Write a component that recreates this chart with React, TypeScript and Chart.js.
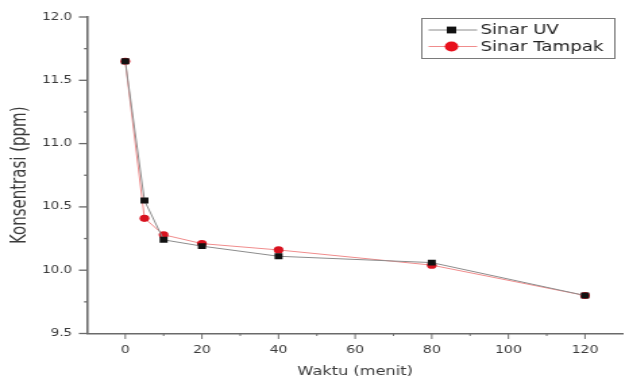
import React, { useEffect, useRef } from "react";
import { Chart, registerables } from "chart.js";

Chart.register(...registerables);

// ---- data ----
const waktu = [0, 5, 10, 20, 40, 80, 120];
const sinarUV = [11.65, 10.55, 10.24, 10.19, 10.11, 10.06, 9.8];
const sinarTampak = [11.65, 10.41, 10.28, 10.21, 10.16, 10.04, 9.8];
const xMajorTicks = [0, 20, 40, 60, 80, 100, 120];
const xMinorTicks = [10, 30, 50, 70, 90, 110];
const yMajorTicks = [9.5, 10.0, 10.5, 11.0, 11.5, 12.0];
const yMinorTicks = [9.75, 10.25, 10.75, 11.25, 11.75];
const seriesLabels = ["Sinar UV", "Sinar Tampak"];
const xTitle = "Waktu (menit)";
const yTitle = "Konsentrasi (ppm)";

// ---- styling ----
const STRETCH = 1.35; // reference picture is stretched horizontally
const CSS_W = 629;
const CSS_H = 378;
const INT_W = Math.round(CSS_W / STRETCH);
const FONT = "'DejaVu Sans', Arial, sans-serif";
const AXIS_COLOR = "#6a6a6a";
const TEXT_COLOR = "#3a3a3a";
const UV_LINE = "#8c8c8c";
const UV_POINT = "#111111";
const TAMPAK_LINE = "#f08c8c";
const TAMPAK_POINT = "#d8121f";

const tickMarks = {
  id: "tickMarks",
  afterDraw(chart: any) {
    const { ctx, chartArea } = chart;
    const xs = chart.scales.x;
    const ys = chart.scales.y;
    ctx.save();
    ctx.strokeStyle = AXIS_COLOR;
    ctx.lineWidth = 1 / STRETCH * 1.3;
    const drawX = (v: number, len: number) => {
      const px = xs.getPixelForValue(v);
      ctx.beginPath();
      ctx.moveTo(px, chartArea.bottom);
      ctx.lineTo(px, chartArea.bottom + len);
      ctx.stroke();
    };
    xMajorTicks.forEach((v) => drawX(v, 5.5));
    xMinorTicks.forEach((v) => drawX(v, 2.5));
    ctx.lineWidth = 1.3;
    const drawY = (v: number, len: number) => {
      const py = ys.getPixelForValue(v);
      ctx.beginPath();
      ctx.moveTo(chartArea.left, py);
      ctx.lineTo(chartArea.left - len, py);
      ctx.stroke();
    };
    yMajorTicks.forEach((v) => drawY(v, 6));
    yMinorTicks.forEach((v) => drawY(v, 2.2));
    ctx.restore();
  },
};

const boxLegend = {
  id: "boxLegend",
  afterDraw(chart: any) {
    const { ctx } = chart;
    const left = 312.5;
    const top = 18.5;
    const w = 143;
    const h = 40;
    ctx.save();
    ctx.fillStyle = "#ffffff";
    ctx.fillRect(left, top, w, h);
    ctx.strokeStyle = "#7a7a7a";
    ctx.lineWidth = 1;
    ctx.strokeRect(left, top, w, h);
    const rows = [30, 46.5];
    chart.data.datasets.forEach((ds: any, i: number) => {
      const y = rows[i];
      ctx.strokeStyle = ds.borderColor;
      ctx.lineWidth = 1;
      ctx.beginPath();
      ctx.moveTo(left + 5, y);
      ctx.lineTo(left + 41, y);
      ctx.stroke();
      ctx.fillStyle = i === 0 ? UV_POINT : "#e8101c";
      const cx = left + 22;
      if (ds.pointStyle === "rect") {
        ctx.fillRect(cx - 3.5, y - 3.4, 7, 6.8);
      } else {
        ctx.beginPath();
        ctx.arc(cx, y, 5, 0, Math.PI * 2);
        ctx.fill();
      }
      ctx.fillStyle = "#222222";
      ctx.font = `13.5px ${FONT}`;
      ctx.textBaseline = "middle";
      ctx.textAlign = "left";
      ctx.fillText(ds.label, left + 43.5, y + 0.5);
    });
    ctx.restore();
  },
};

export default function App() {
  const canvasRef = useRef<HTMLCanvasElement | null>(null);

  useEffect(() => {
    if (!canvasRef.current) return;
    const chart = new Chart(canvasRef.current, {
      type: "scatter",
      data: {
        datasets: [
          {
            label: seriesLabels[0],
            data: waktu.map((x, i) => ({ x, y: sinarUV[i] })),
            showLine: true,
            borderColor: UV_LINE,
            borderWidth: 1,
            backgroundColor: UV_POINT,
            pointBackgroundColor: UV_POINT,
            pointBorderColor: UV_POINT,
            pointBorderWidth: 0,
            pointStyle: "rect",
            pointRadius: 4.2,
            tension: 0,
          },
          {
            label: seriesLabels[1],
            data: waktu.map((x, i) => ({ x, y: sinarTampak[i] })),
            showLine: true,
            borderColor: TAMPAK_LINE,
            borderWidth: 1,
            backgroundColor: TAMPAK_POINT,
            pointBackgroundColor: TAMPAK_POINT,
            pointBorderColor: TAMPAK_POINT,
            pointBorderWidth: 0,
            pointStyle: "circle",
            pointRadius: 3.6,
            tension: 0,
          },
        ],
      },
      options: {
        responsive: false,
        animation: false,
        devicePixelRatio: 1,
        layout: { padding: { top: 16.7, right: 0, bottom: 0, left: 0 } },
        plugins: {
          legend: { display: false },
          tooltip: { enabled: false },
        },
        scales: {
          x: {
            type: "linear",
            position: "bottom",
            min: -10,
            max: 130,
            afterBuildTicks: (scale: any) => {
              scale.ticks = xMajorTicks.map((v) => ({ value: v }));
            },
            afterFit: (scale: any) => {
              scale.height = CSS_H - 333.5;
            },
            grid: { display: false, drawTicks: false },
            border: { display: true, color: AXIS_COLOR, width: 1.6 },
            ticks: {
              padding: 10,
              color: TEXT_COLOR,
              font: { family: FONT, size: 10.5 },
              maxRotation: 0,
              autoSkip: false,
              callback: (v: any) => String(v),
            },
            title: {
              display: true,
              text: xTitle,
              color: TEXT_COLOR,
              font: { family: FONT, size: 12 },
              padding: { top: 0, bottom: -1.2 },
            },
          },
          y: {
            type: "linear",
            position: "left",
            min: 9.5,
            max: 12.0,
            afterBuildTicks: (scale: any) => {
              scale.ticks = yMajorTicks.map((v) => ({ value: v }));
            },
            afterFit: (scale: any) => {
              scale.width = 87 / STRETCH;
            },
            grid: { display: false, drawTicks: false },
            border: { display: true, color: AXIS_COLOR, width: 1.6 },
            ticks: {
              padding: 11,
              color: TEXT_COLOR,
              font: { family: FONT, size: 10 },
              autoSkip: false,
              callback: (v: any) => Number(v).toFixed(1),
            },
            title: {
              display: true,
              text: yTitle,
              color: TEXT_COLOR,
              font: { family: FONT, size: 15 },
              padding: { top: 5.8, bottom: 0 },
            },
          },
        },
      },
      plugins: [tickMarks, boxLegend],
    });
    return () => chart.destroy();
  }, []);

  return (
    <div
      style={{
        position: "fixed",
        left: 0,
        top: 0,
        width: CSS_W,
        height: CSS_H,
        overflow: "hidden",
        background: "#ffffff",
      }}
    >
      <canvas
        ref={canvasRef}
        width={INT_W}
        height={CSS_H}
        style={{ width: `${CSS_W}px`, height: `${CSS_H}px`, display: "block" }}
      />
    </div>
  );
}
